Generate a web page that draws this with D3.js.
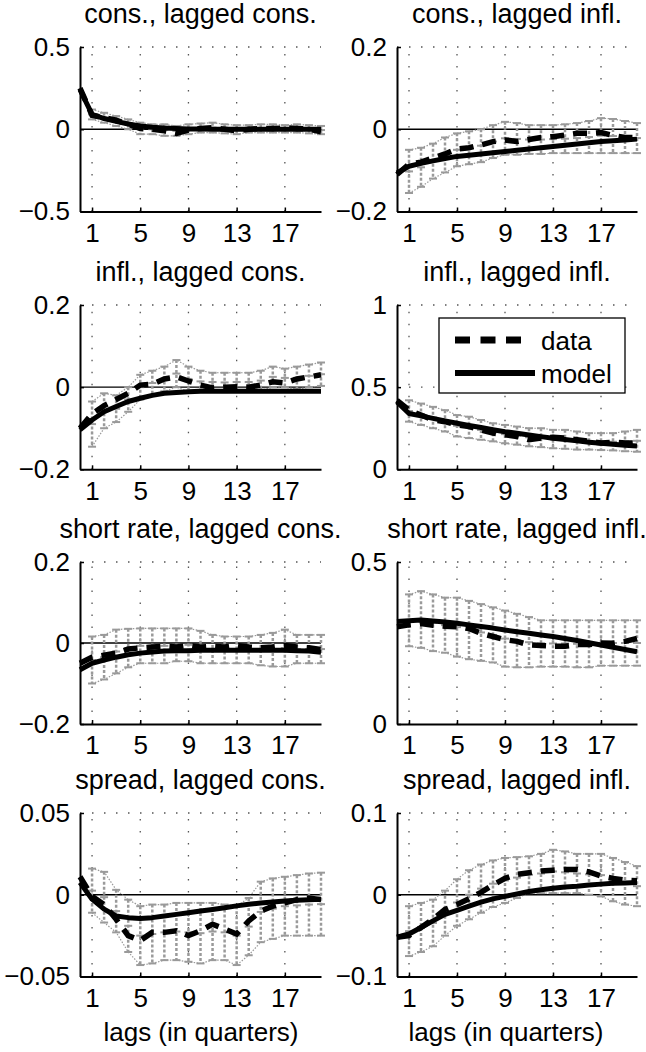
<!DOCTYPE html>
<html>
<head>
<meta charset="utf-8">
<script src="https://cdn.jsdelivr.net/npm/d3@7"></script>
<style>
  html, body { margin: 0; padding: 0; background: #fff; }
  svg { display: block; font-family: "Liberation Sans", Arial, Helvetica, sans-serif; }
</style>
</head>
<body>
<svg id="chart" width="646" height="1052"></svg>
<script>
// ---------- data ----------
const lags = d3.range(0, 21);          // 0..20
const ciLags = d3.range(1, 21);        // 1..20
const xTicks = [1, 5, 9, 13, 17];

const titles = [
  "cons., lagged cons.", "cons., lagged infl.",
  "infl., lagged cons.", "infl., lagged infl.",
  "short rate, lagged cons.", "short rate, lagged infl.",
  "spread, lagged cons.", "spread, lagged infl."
];

const yDomains = [
  [-0.5, 0.5], [-0.2, 0.2],
  [-0.2, 0.2], [0, 1],
  [-0.2, 0.2], [0, 0.5],
  [-0.05, 0.05], [-0.1, 0.1]
];
const yTickLabels = [
  ["\u22120.5", "0", "0.5"], ["\u22120.2", "0", "0.2"],
  ["\u22120.2", "0", "0.2"], ["0", "0.5", "1"],
  ["\u22120.2", "0", "0.2"], ["0", "0.5"],
  ["\u22120.05", "0", "0.05"], ["\u22120.1", "0", "0.1"]
];
const yTickValues = [
  [-0.5, 0, 0.5], [-0.2, 0, 0.2],
  [-0.2, 0, 0.2], [0, 0.5, 1],
  [-0.2, 0, 0.2], [0, 0.5],
  [-0.05, 0, 0.05], [-0.1, 0, 0.1]
];

// model (solid) values at lags 0..20
const model1 = [0.24, 0.09, 0.065, 0.048, 0.032, 0.02, 0.012, 0.007, 0.004, 0.002, 0.001, 0, 0, 0, 0, 0, 0, 0, 0, 0, 0];
const model2 = [-0.106, -0.09, -0.083, -0.077, -0.071, -0.066, -0.063, -0.06, -0.057, -0.054, -0.051, -0.048, -0.045, -0.042, -0.039, -0.036, -0.033, -0.03, -0.028, -0.026, -0.024];
const model3 = [-0.104, -0.08, -0.06, -0.047, -0.035, -0.027, -0.02, -0.015, -0.013, -0.011, -0.01, -0.01, -0.01, -0.01, -0.01, -0.01, -0.01, -0.01, -0.01, -0.01, -0.01];
const model4 = [0.41, 0.34, 0.325, 0.31, 0.295, 0.28, 0.267, 0.254, 0.241, 0.229, 0.219, 0.209, 0.199, 0.189, 0.181, 0.173, 0.165, 0.158, 0.152, 0.147, 0.142];
const model5 = [-0.066, -0.05, -0.042, -0.035, -0.029, -0.025, -0.022, -0.02, -0.019, -0.019, -0.018, -0.018, -0.018, -0.018, -0.018, -0.018, -0.018, -0.018, -0.019, -0.02, -0.023];
const model6 = [0.316, 0.319, 0.321, 0.318, 0.315, 0.311, 0.306, 0.301, 0.296, 0.29, 0.285, 0.28, 0.275, 0.27, 0.264, 0.258, 0.251, 0.244, 0.237, 0.23, 0.223];
const model7 = [0.0074, -0.0027, -0.0088, -0.013, -0.014, -0.0145, -0.014, -0.013, -0.012, -0.011, -0.010, -0.009, -0.008, -0.0068, -0.0058, -0.005, -0.0044, -0.0038, -0.0033, -0.003, -0.0027];
const model8 = [-0.052, -0.048, -0.04, -0.032, -0.024, -0.019, -0.014, -0.009, -0.005, -0.002, 0.001, 0.004, 0.006, 0.008, 0.0095, 0.0105, 0.012, 0.013, 0.014, 0.0145, 0.015];

// data (dashed) values at lags 0..20
const data1 = [0.25, 0.085, 0.07, 0.055, 0.03, 0.005, 0.0, -0.01, -0.025, -0.005, 0.005, 0.01, 0.0, -0.01, 0.0, 0.005, 0.005, 0.008, 0.005, 0.0, -0.015];
const data2 = [-0.11, -0.085, -0.08, -0.07, -0.06, -0.048, -0.045, -0.038, -0.03, -0.026, -0.03, -0.025, -0.02, -0.018, -0.014, -0.01, -0.01, -0.008, -0.015, -0.02, -0.02];
const data3 = [-0.1, -0.065, -0.045, -0.03, -0.015, 0.005, 0.007, 0.02, 0.025, 0.015, 0.005, -0.002, 0.0, 0.001, 0.0, 0.005, 0.013, 0.01, 0.02, 0.025, 0.03];
const data4 = [0.42, 0.36, 0.33, 0.3, 0.29, 0.27, 0.26, 0.24, 0.22, 0.21, 0.2, 0.18, 0.19, 0.195, 0.19, 0.18, 0.17, 0.16, 0.165, 0.16, 0.16];
const data5 = [-0.05, -0.035, -0.03, -0.025, -0.015, -0.012, -0.01, -0.008, -0.01, -0.006, -0.01, -0.008, -0.01, -0.006, -0.01, -0.012, -0.01, -0.006, -0.01, -0.012, -0.016];
const data6 = [0.3, 0.306, 0.31, 0.305, 0.302, 0.3, 0.295, 0.28, 0.27, 0.26, 0.255, 0.244, 0.242, 0.24, 0.24, 0.245, 0.245, 0.25, 0.249, 0.255, 0.264];
const data7 = [0.011, -0.001, -0.006, -0.015, -0.025, -0.028, -0.023, -0.023, -0.022, -0.025, -0.022, -0.018, -0.021, -0.024, -0.016, -0.01, -0.007, -0.005, -0.003, -0.002, -0.003];
const data8 = [-0.052, -0.05, -0.04, -0.03, -0.018, -0.012, -0.005, 0.003, 0.012, 0.02, 0.025, 0.027, 0.029, 0.03, 0.031, 0.031, 0.028, 0.023, 0.02, 0.018, 0.017];

// confidence bands (gray) at lags 1..20
const upper1 = [0.12, 0.10, 0.08, 0.06, 0.04, 0.03, 0.03, 0.02, 0.03, 0.035, 0.04, 0.03, 0.025, 0.025, 0.03, 0.03, 0.025, 0.03, 0.025, 0.02];
const lower1 = [0.06, 0.04, 0.02, 0.0, -0.03, -0.03, -0.04, -0.04, -0.03, -0.02, -0.02, -0.025, -0.03, -0.02, -0.02, -0.02, -0.02, -0.02, -0.025, -0.03];
const upper2 = [-0.05, -0.045, -0.035, -0.02, -0.01, -0.005, 0.0, 0.01, 0.018, 0.015, 0.01, 0.01, 0.01, 0.012, 0.015, 0.02, 0.027, 0.025, 0.02, 0.015];
const lower2 = [-0.155, -0.14, -0.12, -0.105, -0.09, -0.085, -0.08, -0.07, -0.062, -0.062, -0.06, -0.06, -0.058, -0.058, -0.058, -0.058, -0.058, -0.058, -0.058, -0.058];
const upper3 = [-0.035, -0.015, -0.02, 0.0, 0.03, 0.04, 0.05, 0.066, 0.05, 0.04, 0.035, 0.035, 0.035, 0.035, 0.04, 0.05, 0.045, 0.05, 0.055, 0.06];
const lower3 = [-0.145, -0.1, -0.085, -0.06, -0.03, -0.02, -0.01, 0.0, -0.01, -0.012, -0.01, -0.012, -0.01, -0.01, -0.008, 0.0, 0.0, -0.005, 0.0, 0.003];
const upper4 = [0.42, 0.4, 0.38, 0.36, 0.33, 0.32, 0.3, 0.28, 0.27, 0.26, 0.25, 0.25, 0.24, 0.24, 0.23, 0.22, 0.22, 0.22, 0.23, 0.24];
const lower4 = [0.29, 0.27, 0.25, 0.23, 0.2, 0.19, 0.18, 0.17, 0.158, 0.15, 0.14, 0.135, 0.128, 0.125, 0.12, 0.12, 0.117, 0.115, 0.11, 0.107];
const upper5 = [0.016, 0.02, 0.033, 0.035, 0.036, 0.036, 0.036, 0.036, 0.036, 0.03, 0.02, 0.016, 0.016, 0.016, 0.02, 0.025, 0.033, 0.02, 0.02, 0.02];
const lower5 = [-0.1, -0.09, -0.075, -0.06, -0.05, -0.05, -0.05, -0.045, -0.045, -0.05, -0.05, -0.05, -0.05, -0.05, -0.055, -0.058, -0.058, -0.05, -0.05, -0.05];
const upper6 = [0.4, 0.41, 0.4, 0.39, 0.39, 0.38, 0.37, 0.36, 0.35, 0.34, 0.33, 0.32, 0.32, 0.32, 0.32, 0.32, 0.32, 0.32, 0.32, 0.32];
const lower6 = [0.24, 0.235, 0.225, 0.22, 0.208, 0.2, 0.195, 0.19, 0.177, 0.175, 0.175, 0.177, 0.177, 0.177, 0.175, 0.175, 0.18, 0.18, 0.18, 0.18];
const upper7 = [0.016, 0.014, 0.003, -0.003, -0.007, -0.006, -0.006, -0.005, -0.005, -0.005, -0.005, -0.006, -0.007, -0.002, 0.008, 0.01, 0.011, 0.012, 0.013, 0.0135];
const lower7 = [-0.011, -0.017, -0.023, -0.035, -0.043, -0.042, -0.04, -0.04, -0.041, -0.042, -0.04, -0.04, -0.043, -0.037, -0.029, -0.027, -0.025, -0.025, -0.025, -0.025];
const upper8 = [-0.014, -0.01, -0.006, 0.005, 0.019, 0.03, 0.037, 0.042, 0.045, 0.046, 0.047, 0.05, 0.055, 0.053, 0.05, 0.05, 0.05, 0.045, 0.04, 0.035];
const lower8 = [-0.075, -0.07, -0.063, -0.05, -0.038, -0.03, -0.022, -0.015, -0.01, -0.004, 0.002, 0.002, 0.002, 0.002, 0.002, 0.0, -0.002, -0.008, -0.012, -0.014];

const models = [model1, model2, model3, model4, model5, model6, model7, model8];
const datas  = [data1, data2, data3, data4, data5, data6, data7, data8];
const uppers = [upper1, upper2, upper3, upper4, upper5, upper6, upper7, upper8];
const lowers = [lower1, lower2, lower3, lower4, lower5, lower6, lower7, lower8];

const legendLabels = ["data", "model"];
const xLabel = "lags (in quarters)";

// ---------- layout ----------
const colX0 = [80, 397], colX1 = [321, 637];
const rowTop = [47, 305, 562, 813], rowBot = [211.5, 469.3, 724, 976.5];
const FS = 26, TFS = 27;

const svg = d3.select("#chart");

titles.forEach((title, i) => {
  const col = i % 2, row = Math.floor(i / 2);
  const x = d3.scaleLinear().domain([0, 20]).range([colX0[col], colX1[col]]);
  const y = d3.scaleLinear().domain(yDomains[i]).range([rowBot[row], rowTop[row]]);
  const g = svg.append("g");

  // dotted grid
  g.selectAll(".vg").data(xTicks).enter().append("line")
    .attr("x1", d => x(d)).attr("x2", d => x(d))
    .attr("y1", y.range()[0]).attr("y2", y.range()[1])
    .attr("stroke", "#555").attr("stroke-width", 1.3).attr("stroke-dasharray", "1.5,10.5");
  g.selectAll(".hg").data(yTickValues[i].filter(v => v !== yDomains[i][0] && v !== 0)).enter().append("line")
    .attr("x1", x(0)).attr("x2", x(20))
    .attr("y1", d => y(d)).attr("y2", d => y(d))
    .attr("stroke", "#555").attr("stroke-width", 1.3).attr("stroke-dasharray", "1.5,10.5");

  // zero line
  if (yDomains[i][0] < 0 && yDomains[i][1] > 0) {
    g.append("line").attr("x1", x(0)).attr("x2", x(20))
      .attr("y1", y(0)).attr("y2", y(0)).attr("stroke", "#000").attr("stroke-width", 1.3);
  }

  // confidence band (gray error bars)
  const ci = ciLags.map((l, k) => ({ l, u: uppers[i][k], lo: lowers[i][k] }));
  const band = g.append("g").attr("stroke", "#9a9a9a").attr("fill", "none");
  band.selectAll(".bar").data(ci).enter().append("line")
    .attr("x1", d => x(d.l)).attr("x2", d => x(d.l))
    .attr("y1", d => y(d.u)).attr("y2", d => y(d.lo))
    .attr("stroke-width", 2.5).attr("stroke-dasharray", "3,2");
  band.selectAll(".capu").data(ci).enter().append("line")
    .attr("x1", d => x(d.l) - 4).attr("x2", d => x(d.l) + 4)
    .attr("y1", d => y(d.u)).attr("y2", d => y(d.u)).attr("stroke-width", 2);
  band.selectAll(".capl").data(ci).enter().append("line")
    .attr("x1", d => x(d.l) - 4).attr("x2", d => x(d.l) + 4)
    .attr("y1", d => y(d.lo)).attr("y2", d => y(d.lo)).attr("stroke-width", 2);
  band.selectAll(".mid").data(ci).enter().append("line")
    .attr("x1", d => x(d.l) - 4).attr("x2", d => x(d.l) + 4)
    .attr("y1", d => y((d.u + d.lo) / 2)).attr("y2", d => y((d.u + d.lo) / 2)).attr("stroke-width", 2);
  const lineU = d3.line().x(d => x(d.l)).y(d => y(d.u));
  const lineL = d3.line().x(d => x(d.l)).y(d => y(d.lo));
  band.append("path").attr("d", lineU(ci)).attr("stroke-width", 1.2).attr("stroke-dasharray", "1.5,1.5");
  band.append("path").attr("d", lineL(ci)).attr("stroke-width", 1.2).attr("stroke-dasharray", "1.5,1.5");

  // lines
  const ln = d3.line().x((d, k) => x(lags[k])).y(d => y(d));
  g.append("path").attr("d", ln(datas[i])).attr("fill", "none").attr("stroke", "#000")
    .attr("stroke-width", 5.5).attr("stroke-dasharray", "14,9");
  g.append("path").attr("d", ln(models[i])).attr("fill", "none").attr("stroke", "#000")
    .attr("stroke-width", 5).attr("stroke-linejoin", "round");

  // axes
  const xa = d3.axisBottom(x).tickValues(xTicks).tickSizeInner(-4).tickSizeOuter(0).tickPadding(12).tickFormat(d3.format("d"));
  const xg = g.append("g").attr("transform", `translate(0,${y.range()[0]})`).call(xa);
  xg.select(".domain").attr("stroke-width", 2);
  xg.selectAll(".tick line").attr("stroke-width", 1.5);
  xg.selectAll("text").attr("font-size", FS).attr("font-family", "Liberation Sans, Arial, sans-serif").attr("fill", "#000");

  const ya = d3.axisLeft(y).tickValues(yTickValues[i]).tickSizeInner(-4).tickSizeOuter(0).tickPadding(10)
    .tickFormat((d, k) => yTickLabels[i][k]);
  const yg = g.append("g").attr("transform", `translate(${x.range()[0]},0)`).call(ya);
  yg.select(".domain").attr("stroke-width", 2);
  yg.selectAll(".tick line").attr("stroke-width", 1.5);
  yg.selectAll("text").attr("font-size", FS).attr("font-family", "Liberation Sans, Arial, sans-serif").attr("fill", "#000");

  // title
  g.append("text").attr("x", (x.range()[0] + x.range()[1]) / 2).attr("y", y.range()[1] - 24)
    .attr("text-anchor", "middle").attr("font-size", TFS).text(title);

  if (row === 3) {
    g.append("text").attr("x", col === 0 ? 201 : 506).attr("y", 1041)
      .attr("text-anchor", "middle").attr("font-size", FS).text(xLabel);
  }

  // legend in panel 4
  if (i === 3) {
    const lg = g.append("g");
    lg.append("rect").attr("x", 439).attr("y", 318).attr("width", 186).attr("height", 75)
      .attr("fill", "#fff").attr("stroke", "#000").attr("stroke-width", 1.3);
    lg.append("line").attr("x1", 455).attr("x2", 521).attr("y1", 340).attr("y2", 340)
      .attr("stroke", "#000").attr("stroke-width", 7).attr("stroke-dasharray", "15,10.5");
    lg.append("line").attr("x1", 455).attr("x2", 535).attr("y1", 373).attr("y2", 373)
      .attr("stroke", "#000").attr("stroke-width", 6);
    lg.append("text").attr("x", 541).attr("y", 350).attr("font-size", FS).text(legendLabels[0]);
    lg.append("text").attr("x", 541).attr("y", 383).attr("font-size", FS).text(legendLabels[1]);
  }
});
</script>
</body>
</html>
